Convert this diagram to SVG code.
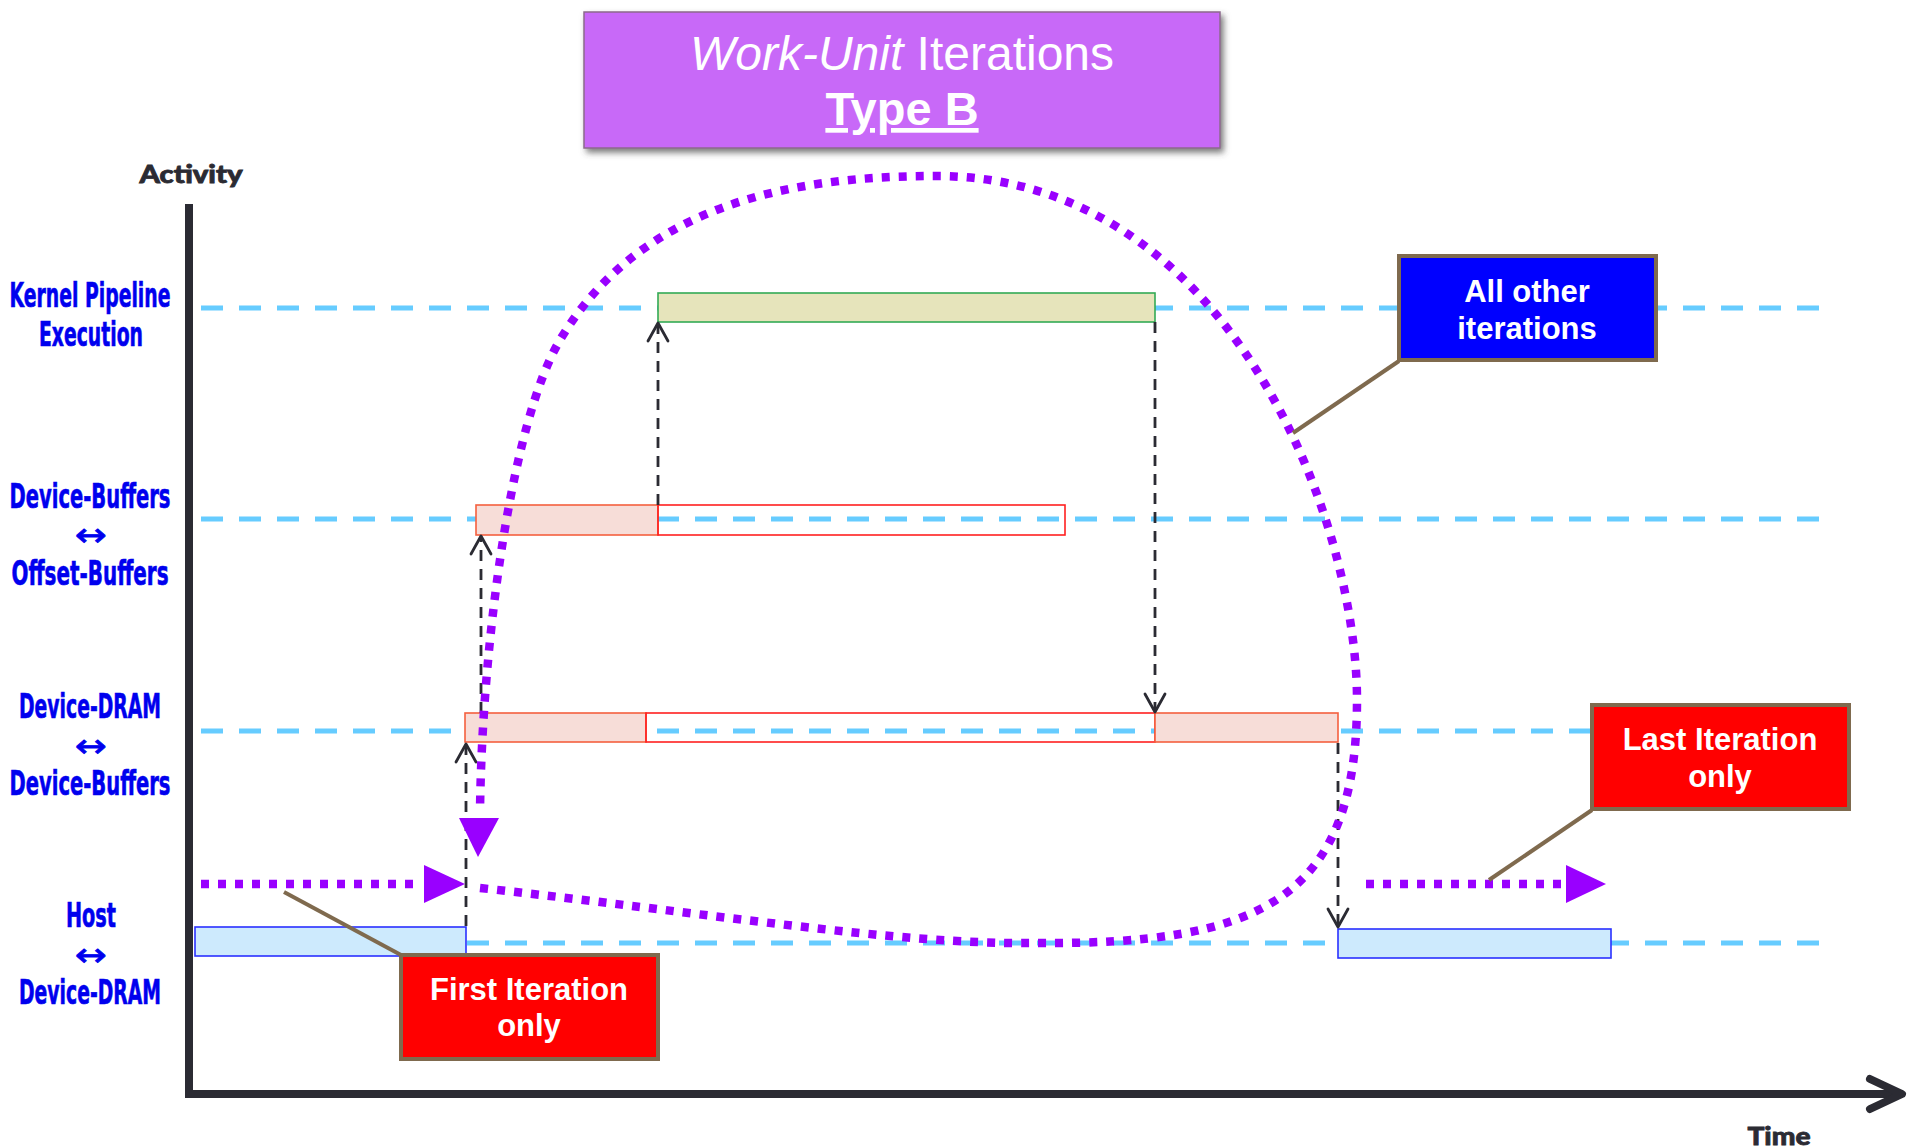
<svg xmlns="http://www.w3.org/2000/svg" width="1907" height="1148" viewBox="0 0 1907 1148">
  <defs>
    <style>
      .lane{stroke:#66ccff;stroke-width:5;stroke-dasharray:22 16;fill:none}
      .flow{stroke:#2b2b33;stroke-width:2.8;stroke-dasharray:11 8;fill:none}
      .head{stroke:#2b2b33;stroke-width:2.8;fill:none;stroke-linecap:round;stroke-linejoin:round}
      .dots{stroke:#9900ff;stroke-width:8.5;stroke-dasharray:8 9;fill:none}
      .tri{fill:#9900ff}
      .axis{stroke:#2b2b33;stroke-width:8;fill:none}
      .lbl{font-family:"DejaVu Sans Condensed","DejaVu Sans",sans-serif;font-weight:bold;font-size:33px;fill:#0000ee;text-anchor:middle;stroke:#0000ee;stroke-width:0.6}
      .arr{font-family:"DejaVu Sans",sans-serif;font-size:32px;fill:#0000ee;text-anchor:middle;stroke:#0000ee;stroke-width:0.8}
      .ax{font-family:Lato,"Open Sans",sans-serif;font-weight:900;fill:#2b2b33;text-anchor:middle;stroke:#2b2b33;stroke-width:0.8}
      .pink{fill:#f7ddd8;stroke:#f4603f;stroke-width:1.6}
      .open{fill:none;stroke:#ff2020;stroke-width:1.6}
      .host{fill:#cdeafd;stroke:#2a30ff;stroke-width:1.6}
      .kern{fill:#e6e4bb;stroke:#33aa55;stroke-width:1.6}
      .callout{stroke:#7f6a4e;stroke-width:4}
      .leader{stroke:#7f6a4e;stroke-width:4;fill:none}
      .ctext{font-family:"Liberation Sans",Arial,sans-serif;font-weight:bold;font-size:31px;fill:#ffffff;text-anchor:middle}
    </style>
    <filter id="shadow" x="-5%" y="-10%" width="115%" height="130%">
      <feDropShadow dx="3" dy="4" stdDeviation="3" flood-color="#444" flood-opacity="0.7"/>
    </filter>
  </defs>

  <!-- title -->
  <g id="title">
    <rect x="584" y="12" width="636" height="136" fill="#c869f8" stroke="#8c6a8c" stroke-width="1.5" filter="url(#shadow)"/>
    <text x="902" y="70" font-family="'Liberation Sans',Arial,sans-serif" font-size="48" fill="#ffffff" text-anchor="middle"><tspan font-style="italic">Work-Unit</tspan> Iterations</text>
    <text x="902" y="125" font-family="'Liberation Sans',Arial,sans-serif" font-size="47" font-weight="bold" fill="#ffffff" text-anchor="middle" text-decoration="underline">Type B</text>
  </g>

  <!-- axes -->
  <g id="axes">
    <line class="axis" x1="189" y1="204" x2="189" y2="1098"/>
    <line class="axis" x1="185" y1="1094" x2="1898" y2="1094"/>
    <polyline class="axis" points="1870,1079 1902,1094 1870,1109" stroke-linecap="round" stroke-linejoin="round"/>
    <text class="ax" x="191" y="183" font-size="24" textLength="103" lengthAdjust="spacingAndGlyphs">Activity</text>
    <text class="ax" x="1779" y="1145" font-size="25" textLength="63" lengthAdjust="spacingAndGlyphs">Time</text>
  </g>

  <!-- row labels -->
  <g id="row-labels">
    <text class="lbl" x="90" y="307" textLength="161" lengthAdjust="spacingAndGlyphs">Kernel Pipeline</text>
    <text class="lbl" x="91" y="346" textLength="104" lengthAdjust="spacingAndGlyphs">Execution</text>

    <text class="lbl" x="90" y="508" textLength="161" lengthAdjust="spacingAndGlyphs">Device-Buffers</text>
    <text class="arr" x="91" y="546" textLength="32" lengthAdjust="spacingAndGlyphs">↔</text>
    <text class="lbl" x="90" y="585" textLength="157" lengthAdjust="spacingAndGlyphs">Offset-Buffers</text>

    <text class="lbl" x="90" y="718" textLength="142" lengthAdjust="spacingAndGlyphs">Device-DRAM</text>
    <text class="arr" x="91" y="757" textLength="32" lengthAdjust="spacingAndGlyphs">↔</text>
    <text class="lbl" x="90" y="795" textLength="161" lengthAdjust="spacingAndGlyphs">Device-Buffers</text>

    <text class="lbl" x="91" y="927" textLength="50" lengthAdjust="spacingAndGlyphs">Host</text>
    <text class="arr" x="91" y="966" textLength="32" lengthAdjust="spacingAndGlyphs">↔</text>
    <text class="lbl" x="90" y="1004" textLength="142" lengthAdjust="spacingAndGlyphs">Device-DRAM</text>
  </g>

  <!-- swim lanes -->
  <g id="lanes">
    <line class="lane" x1="201" y1="308" x2="1826" y2="308"/>
    <line class="lane" x1="201" y1="519" x2="1826" y2="519"/>
    <line class="lane" x1="201" y1="731" x2="1826" y2="731"/>
    <line class="lane" x1="201" y1="943" x2="1826" y2="943"/>
  </g>

  <!-- activity bars -->
  <g id="kernel-exec">
    <rect class="kern" x="658" y="293" width="497" height="29"/>
  </g>
  <g id="offset-buffers">
    <rect class="pink" x="476" y="505" width="182" height="30"/>
    <rect class="open" x="658" y="505" width="407" height="30"/>
  </g>
  <g id="device-dram">
    <rect class="pink" x="465" y="713" width="181" height="29"/>
    <rect class="open" x="646" y="713" width="509" height="29"/>
    <rect class="pink" x="1155" y="713" width="183" height="29"/>
  </g>
  <g id="host-transfer-in">
    <rect class="host" x="195" y="927" width="271" height="29"/>
  </g>
  <g id="host-transfer-out">
    <rect class="host" x="1338" y="929" width="273" height="29"/>
  </g>

  <!-- data dependencies -->
  <g id="connectors">
    <line class="flow" x1="466" y1="926" x2="466" y2="746"/>
    <polyline class="head" points="456,762 466,744 476,762"/>
    <line class="flow" x1="481" y1="713" x2="481" y2="538"/>
    <polyline class="head" points="471,554 481,536 491,554"/>
    <line class="flow" x1="658" y1="505" x2="658" y2="325"/>
    <polyline class="head" points="648,341 658,323 668,341"/>
    <line class="flow" x1="1155" y1="322" x2="1155" y2="710"/>
    <polyline class="head" points="1145,694 1155,712 1165,694"/>
    <line class="flow" x1="1338" y1="743" x2="1338" y2="925"/>
    <polyline class="head" points="1328,909 1338,927 1348,909"/>
  </g>

  <!-- iteration flow -->
  <g id="iteration-flow">
    <path class="dots" d="M201 884 H422"/>
    <polygon class="tri" points="424,865 465,884 424,903"/>
    <path class="dots" d="M480 888 C700 912 900 945 1034 943 C1260 945 1357 900 1357 700 C1357 520 1230 176 936 176 C790 176 640 205 560 340 C512 421 482 640 480 812"/>
    <polygon class="tri" points="459,818 499,818 478,857"/>
    <path class="dots" d="M1366 884 H1564"/>
    <polygon class="tri" points="1566,865 1606,884 1566,903"/>
  </g>

  <!-- callouts -->
  <g id="callout-other">
    <line class="leader" x1="1399" y1="361" x2="1293" y2="433"/>
    <rect class="callout" x="1399" y="256" width="257" height="104" fill="#0000ff"/>
    <text class="ctext" x="1527" y="302">All other</text>
    <text class="ctext" x="1527" y="339">iterations</text>
  </g>
  <g id="callout-last">
    <line class="leader" x1="1592" y1="810" x2="1489" y2="880"/>
    <rect class="callout" x="1592" y="705" width="257" height="104" fill="#ff0000"/>
    <text class="ctext" x="1720" y="750">Last Iteration</text>
    <text class="ctext" x="1720" y="787">only</text>
  </g>
  <g id="callout-first">
    <line class="leader" x1="284" y1="892" x2="401" y2="955"/>
    <rect class="callout" x="401" y="955" width="257" height="104" fill="#ff0000"/>
    <text class="ctext" x="529" y="1000">First Iteration</text>
    <text class="ctext" x="529" y="1036">only</text>
  </g>
</svg>
